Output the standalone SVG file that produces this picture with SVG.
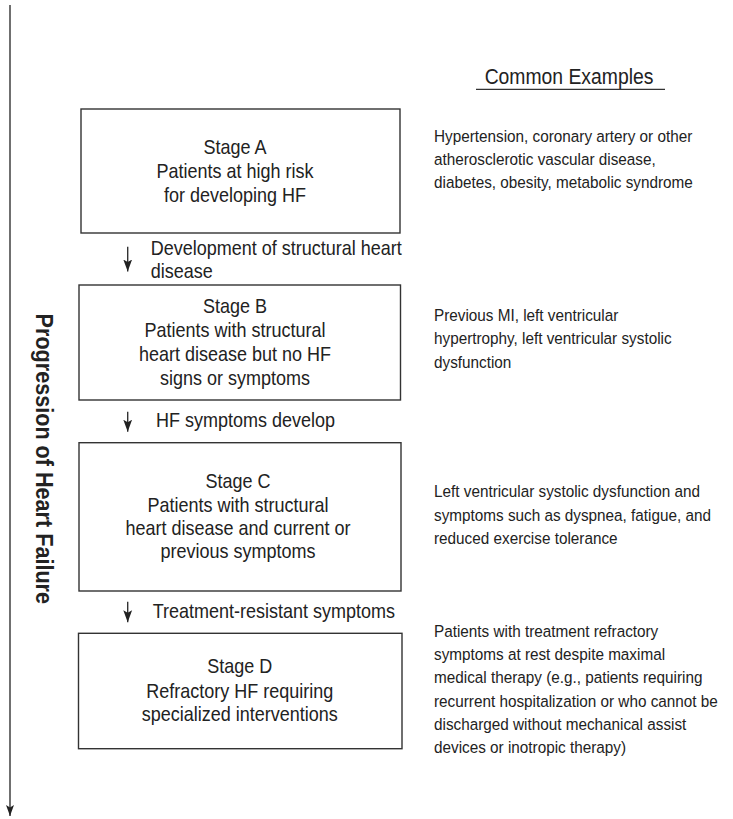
<svg xmlns="http://www.w3.org/2000/svg" width="733" height="819" viewBox="0 0 733 819">
<defs>
<style>
text{font-family:"Liberation Sans Narrow","Liberation Sans",Arial,sans-serif;fill:#222;}
.box{fill:#fff;stroke:#333;stroke-width:1.4;}
.st{font-size:20px;text-anchor:middle;}
.lbl{font-size:20px;}
.ex{font-size:17px;}
.hd{font-size:21.5px;text-anchor:middle;}
.vt{font-size:24px;font-weight:bold;text-anchor:middle;}
.ln{stroke:#333;stroke-width:1.4;fill:none;}
</style>
<marker id="ahs" markerUnits="userSpaceOnUse" markerWidth="10" markerHeight="12" refX="5" refY="12" orient="0" viewBox="0 0 10 12">
<path d="M0.6,0 L5,12 L9.4,0 L5,2.5 Z" fill="#222"/>
</marker>
<marker id="ahl" markerUnits="userSpaceOnUse" markerWidth="9" markerHeight="11" refX="4.5" refY="11" orient="0" viewBox="0 0 9 11">
<path d="M0.5,0 L4.5,11 L8.5,0 L4.5,2.5 Z" fill="#222"/>
</marker>
</defs>
<rect width="733" height="819" fill="#fff"/>

<g id="connectors">
<line class="ln" x1="10" y1="5" x2="10" y2="816" marker-end="url(#ahl)"/>
<line class="ln" x1="127.7" y1="246.7" x2="127.7" y2="271.5" marker-end="url(#ahs)"/>
<line class="ln" x1="127.7" y1="411.7" x2="127.7" y2="431.7" marker-end="url(#ahs)"/>
<line class="ln" x1="127.7" y1="601.7" x2="127.7" y2="622.3" marker-end="url(#ahs)"/>
<g transform="translate(150.7 0) scale(0.9 1)">
<text class="lbl" x="0" y="255">Development of structural heart</text>
<text class="lbl" x="0" y="278.3">disease</text>
</g>
<g transform="translate(156 0) scale(0.9 1)">
<text class="lbl" x="0" y="426.7">HF symptoms develop</text>
</g>
<g transform="translate(152.7 0) scale(0.9 1)">
<text class="lbl" x="0" y="617.7">Treatment-resistant symptoms</text>
</g>
</g>

<g id="axis-label">
<text class="vt" transform="translate(36 458.8) rotate(90) scale(0.9 1)" x="0" y="0">Progression of Heart Failure</text>
</g>

<g id="header">
<g transform="translate(569 0) scale(0.9 1)">
<text class="hd" x="0" y="84">Common Examples</text>
</g>
<line x1="476" y1="89.3" x2="665" y2="89.3" stroke="#333" stroke-width="1.3"/>
</g>

<g id="stageA">
<rect class="box" x="81" y="109" width="319" height="124"/>
<g transform="translate(235 0) scale(0.9 1)">
<text class="st" x="0" y="154.3">Stage A</text>
<text class="st" x="0" y="178">Patients at high risk</text>
<text class="st" x="0" y="202">for developing HF</text>
</g>
</g>

<g id="stageB">
<rect class="box" x="79" y="285" width="321.5" height="115"/>
<g transform="translate(235 0) scale(0.9 1)">
<text class="st" x="0" y="313.3">Stage B</text>
<text class="st" x="0" y="337.3">Patients with structural</text>
<text class="st" x="0" y="361.5">heart disease but no HF</text>
<text class="st" x="0" y="385">signs or symptoms</text>
</g>
</g>

<g id="stageC">
<rect class="box" x="79" y="442.7" width="322" height="148.3"/>
<g transform="translate(238 0) scale(0.9 1)">
<text class="st" x="0" y="488.3">Stage C</text>
<text class="st" x="0" y="511.7">Patients with structural</text>
<text class="st" x="0" y="535">heart disease and current or</text>
<text class="st" x="0" y="558.3">previous symptoms</text>
</g>
</g>

<g id="stageD">
<rect class="box" x="78.5" y="633.3" width="323.5" height="115.4"/>
<g transform="translate(239.7 0) scale(0.9 1)">
<text class="st" x="0" y="673.3">Stage D</text>
<text class="st" x="0" y="697.7">Refractory HF requiring</text>
<text class="st" x="0" y="721">specialized interventions</text>
</g>
</g>

<g id="exampleA" transform="translate(434 0) scale(0.9 1)">
<text class="ex" x="0" y="141.7">Hypertension, coronary artery or other</text>
<text class="ex" x="0" y="165">atherosclerotic vascular disease,</text>
<text class="ex" x="0" y="188">diabetes, obesity, metabolic syndrome</text>
</g>

<g id="exampleB" transform="translate(434 0) scale(0.9 1)">
<text class="ex" x="0" y="320.7">Previous MI, left ventricular</text>
<text class="ex" x="0" y="344.3">hypertrophy, left ventricular systolic</text>
<text class="ex" x="0" y="367.7">dysfunction</text>
</g>

<g id="exampleC" transform="translate(434 0) scale(0.9 1)">
<text class="ex" x="0" y="497.3">Left ventricular systolic dysfunction and</text>
<text class="ex" x="0" y="520.7">symptoms such as dyspnea, fatigue, and</text>
<text class="ex" x="0" y="544">reduced exercise tolerance</text>
</g>

<g id="exampleD" transform="translate(434 0) scale(0.9 1)">
<text class="ex" x="0" y="636.7">Patients with treatment refractory</text>
<text class="ex" x="0" y="660">symptoms at rest despite maximal</text>
<text class="ex" x="0" y="683.3">medical therapy (e.g., patients requiring</text>
<text class="ex" x="0" y="706.7">recurrent hospitalization or who cannot be</text>
<text class="ex" x="0" y="730">discharged without mechanical assist</text>
<text class="ex" x="0" y="753.3">devices or inotropic therapy)</text>
</g>
</svg>
